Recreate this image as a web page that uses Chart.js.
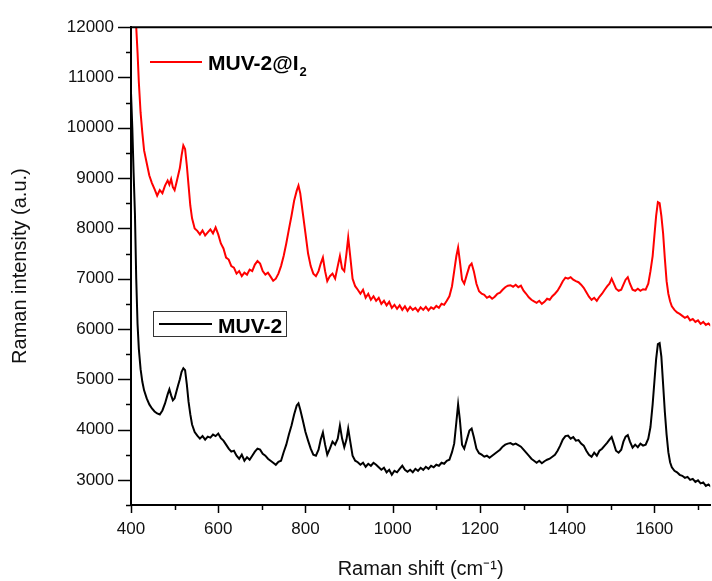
<!DOCTYPE html>
<html>
<head>
<meta charset="utf-8">
<script src="https://cdn.jsdelivr.net/npm/chart.js@4.4.0/dist/chart.umd.min.js"></script>
<style>
  body { margin: 0; background: #fff; }
  #wrap { position: relative; width: 712px; height: 581px; overflow: hidden; }
  .lg { position: absolute; font-family: "Liberation Sans", Arial, sans-serif; font-weight: bold; font-size: 21px; line-height: 1; color: #000; white-space: nowrap; }
  .lgline { position: absolute; height: 2px; }
  .lgbox { position: absolute; border: 1px solid #333; box-sizing: border-box; }
</style>
</head>
<body>
<div id="wrap">
  <canvas id="myChart" width="712" height="581"></canvas>
  <div class="lgline" style="left:150px; top:61px; width:52px; background:#ff0000;"></div>
  <div class="lg" style="left:208px; top:52px;">MUV-2@I<span style="font-size:13px; position:relative; top:6px; margin-left:1px;">2</span></div>
  <div class="lgbox" style="left:153px; top:311px; width:134px; height:26px;"></div>
  <div class="lgline" style="left:159px; top:323px; width:53px; background:#000;"></div>
  <div class="lg" style="left:218px; top:315px;">MUV-2</div>
</div>
<script>
// Raman shift (cm-1)
const shift = [
    400, 403, 406, 409, 412, 415, 418, 422, 426, 430,
    436, 442, 448, 454, 460, 466, 472, 478, 484, 488,
    492, 496, 500, 504, 508, 512, 516, 520, 524, 528,
    532, 536, 540, 546, 552, 558, 564, 570, 576, 582,
    588, 594, 600, 606, 612, 618, 624, 630, 636, 642,
    648, 654, 660, 666, 672, 678, 684, 690, 696, 702,
    708, 714, 720, 726, 732, 738, 744, 750, 756, 762,
    768, 774, 780, 784, 788, 794, 800, 806, 812, 818,
    824, 830, 835, 840, 845, 850, 856, 862, 868, 874,
    879, 884, 889, 894, 898, 902, 908, 914, 920, 926,
    932, 938, 944, 950, 956, 962, 968, 974, 980, 986,
    992, 998, 1004, 1010, 1016, 1022, 1028, 1034, 1040, 1046,
    1052, 1058, 1064, 1070, 1076, 1082, 1088, 1094, 1100, 1106,
    1112, 1118, 1124, 1130, 1136, 1141, 1146, 1150, 1154, 1159,
    1164, 1170, 1176, 1181, 1186, 1192, 1198, 1204, 1210, 1216,
    1222, 1228, 1234, 1240, 1246, 1252, 1258, 1264, 1270, 1276,
    1282, 1288, 1294, 1300, 1306, 1312, 1318, 1324, 1330, 1336,
    1342, 1348, 1354, 1360, 1366, 1372, 1378, 1384, 1390, 1396,
    1402, 1408, 1414, 1420, 1426, 1432, 1438, 1444, 1450, 1456,
    1462, 1468, 1474, 1480, 1486, 1492, 1497, 1502, 1507, 1512,
    1518, 1524, 1529, 1534, 1539, 1544, 1550, 1556, 1562, 1568,
    1574, 1580, 1586, 1591, 1596, 1600, 1604, 1608, 1612, 1616,
    1620, 1624, 1628, 1632, 1636, 1640, 1646, 1652, 1658, 1664,
    1670, 1676, 1682, 1688, 1694, 1700, 1706, 1712, 1718, 1724,
    1730
];

// MUV-2@I2 (red)
const muv2I2 = [
    14500, 13800, 13100, 12500, 12000, 11500, 10900, 10300, 9900, 9550,
    9300, 9050, 8900, 8780, 8650, 8760, 8700, 8850, 8950, 8870,
    8980, 8820, 8760, 8900, 9050, 9200, 9450, 9650, 9580, 9250,
    8850, 8450, 8200, 8000, 7950, 7880, 7960, 7860, 7920, 7980,
    7900, 8020, 7880, 7700, 7600, 7420, 7380, 7250, 7220, 7100,
    7150, 7050, 7120, 7080, 7180, 7150, 7280, 7350, 7300, 7150,
    7080, 7120, 7040, 6960, 7000, 7100, 7250, 7450, 7700, 7980,
    8250, 8550, 8750, 8850, 8700, 8300, 7900, 7500, 7250, 7100,
    7050, 7150, 7300, 7420, 7150, 6950, 7050, 7100, 7000, 7250,
    7450, 7200, 7150, 7500, 7820, 7500, 7000, 6850, 6780, 6700,
    6780, 6620, 6700, 6580, 6650, 6560, 6620, 6500, 6560, 6470,
    6540, 6420, 6480, 6400, 6470, 6380, 6450, 6360, 6440, 6380,
    6420, 6350, 6430, 6380, 6440, 6370, 6430, 6400, 6460, 6420,
    6500, 6480, 6560, 6650, 6850, 7150, 7450, 7620, 7350, 6980,
    6900, 7080, 7250, 7300, 7150, 6900, 6750, 6700, 6680, 6620,
    6650, 6600, 6640, 6700, 6720, 6780, 6830, 6860, 6870, 6840,
    6880, 6830, 6860, 6760, 6700, 6630, 6580, 6550, 6520, 6560,
    6500, 6540, 6600, 6580, 6650, 6700, 6760, 6850, 6950, 7020,
    7000, 7030, 6980, 6950, 6930, 6880, 6820, 6730, 6640, 6580,
    6620, 6560, 6640, 6700, 6780, 6850, 6900, 7000, 6900, 6800,
    6760, 6780, 6880, 6980, 7030, 6900, 6780, 6760, 6800, 6760,
    6790, 6780, 6900, 7150, 7450, 7850, 8250, 8520, 8500, 8250,
    7900, 7400, 6950, 6700, 6550, 6450, 6380, 6330, 6300, 6260,
    6220, 6250, 6170, 6200, 6140, 6170, 6100, 6140, 6080, 6110,
    6060
];

// MUV-2 (black)
const muv2 = [
    10700, 10000, 9100, 8300, 7000, 6100, 5600, 5200, 4950, 4780,
    4620, 4500, 4420, 4360, 4320, 4300, 4380, 4520, 4700, 4800,
    4680, 4580, 4620, 4750, 4880, 5000, 5150, 5220, 5180, 4900,
    4550, 4300, 4100, 3950, 3880, 3820, 3870, 3800, 3860, 3840,
    3900, 3870, 3920, 3830, 3780, 3700, 3620, 3560, 3580, 3480,
    3420, 3500, 3380, 3450, 3400, 3480, 3560, 3620, 3600, 3520,
    3480, 3420, 3380, 3340, 3300, 3360, 3380, 3550, 3700, 3900,
    4080, 4300, 4480, 4520, 4400, 4180, 3950, 3780, 3620, 3500,
    3480, 3600, 3800, 3940, 3700, 3500, 3620, 3760, 3700, 3820,
    4080, 3820, 3650, 3800, 4020, 3800, 3480, 3380, 3350, 3300,
    3340, 3260, 3320, 3280, 3340, 3300, 3250, 3200, 3240, 3150,
    3200, 3100, 3180, 3150, 3220, 3280, 3200, 3160, 3200, 3150,
    3220, 3180, 3240, 3200, 3260, 3220, 3280, 3250, 3300, 3280,
    3340, 3320, 3380, 3400, 3550, 3720, 4150, 4500, 4200, 3700,
    3620, 3800, 3980, 4020, 3850, 3620, 3530, 3500, 3460, 3480,
    3440, 3480, 3520, 3560, 3600, 3660, 3700, 3720, 3730, 3700,
    3720, 3690, 3660, 3600, 3540, 3480, 3420, 3380, 3340, 3380,
    3330, 3370, 3400, 3420, 3460, 3500, 3580, 3680, 3800, 3870,
    3880, 3820, 3850, 3780, 3790, 3720, 3680, 3580, 3500, 3460,
    3540, 3480, 3580, 3620, 3680, 3740, 3800, 3850, 3720, 3580,
    3540, 3600, 3760, 3860, 3890, 3760, 3640, 3700, 3650, 3720,
    3680, 3700, 3820, 4050, 4500, 4950, 5400, 5700, 5720, 5450,
    4900, 4350, 3900, 3550, 3350, 3250, 3180, 3150, 3100, 3080,
    3040, 3060, 3000, 3020, 2960, 2990, 2930, 2950, 2880, 2910,
    2860
];

const xMin = 400, xMax = 1728;
const yMin = 2500, yMax = 12000;

const FONT = '"Liberation Sans", Arial, sans-serif';

// tick marks (major / minor) and the top frame line
const frame = {
    id: 'frame',
    afterDraw(chart) {
        const ctx = chart.ctx;
        const area = chart.chartArea;
        const xs = chart.scales.x, ys = chart.scales.y;
        ctx.save();
        ctx.strokeStyle = '#000';
        ctx.lineWidth = 2;
        ctx.beginPath();
        ctx.moveTo(area.left - 1, area.top);
        ctx.lineTo(area.right + 2, area.top);
        ctx.stroke();
        ctx.lineWidth = 1.5;
        xs.ticks.forEach(t => {
            if (t.value % 100 !== 0) return;
            const px = Math.round(xs.getPixelForValue(t.value)) + 0.5;
            const len = t.value % 200 === 0 ? 8 : 5;
            ctx.beginPath();
            ctx.moveTo(px, area.bottom);
            ctx.lineTo(px, area.bottom + len);
            ctx.stroke();
        });
        ys.ticks.forEach(t => {
            if (t.value % 500 !== 0) return;
            const py = Math.round(ys.getPixelForValue(t.value)) + 0.5;
            const len = t.value % 1000 === 0 ? 13 : 5;
            ctx.beginPath();
            ctx.moveTo(area.left, py);
            ctx.lineTo(area.left - len, py);
            ctx.stroke();
        });
        ctx.restore();
    }
};

const ctx = document.getElementById('myChart').getContext('2d');
const myChart = new Chart(ctx, {
    type: 'line',
    data: {
        datasets: [{
            label: 'MUV-2@I2',
            data: shift.map((s, i) => ({ x: s, y: muv2I2[i] })),
            borderColor: '#ff0000',
            borderWidth: 2,
            pointRadius: 0,
            tension: 0
        }, {
            label: 'MUV-2',
            data: shift.map((s, i) => ({ x: s, y: muv2[i] })),
            borderColor: '#000000',
            borderWidth: 2,
            pointRadius: 0,
            tension: 0
        }]
    },
    options: {
        responsive: false,
        animation: false,
        layout: { padding: { top: 27, left: 0, right: 0, bottom: 0 } },
        plugins: {
            legend: { display: false },
            tooltip: { enabled: false }
        },
        scales: {
            x: {
                type: 'linear',
                min: xMin,
                max: xMax,
                afterFit(scale) { scale.height = 76; },
                border: { display: true, color: '#000', width: 2 },
                grid: { display: false, drawTicks: false },
                ticks: {
                    stepSize: 100,
                    includeBounds: false,
                    autoSkip: false,
                    maxRotation: 0,
                    padding: 14,
                    color: '#111',
                    font: { family: FONT, size: 17 },
                    callback: v => (v % 200 === 0 ? String(v) : '')
                },
                title: {
                    display: true,
                    text: 'Raman shift (cm\u207B\u00B9)',
                    color: '#111',
                    font: { family: FONT, size: 20 },
                    padding: { top: 0, bottom: 0 }
                }
            },
            y: {
                min: yMin,
                max: yMax,
                afterFit(scale) { scale.width = 131; },
                border: { display: true, color: '#000', width: 2 },
                grid: { display: false, drawTicks: false },
                ticks: {
                    stepSize: 500,
                    autoSkip: false,
                    padding: 17,
                    color: '#111',
                    font: { family: FONT, size: 17 },
                    callback: v => (v % 1000 === 0 ? String(v) : '')
                },
                title: {
                    display: true,
                    text: 'Raman intensity (a.u.)',
                    color: '#111',
                    font: { family: FONT, size: 20 },
                    padding: { top: 8, bottom: 0 }
                }
            }
        }
    },
    plugins: [frame]
});
</script>
</body>
</html>
